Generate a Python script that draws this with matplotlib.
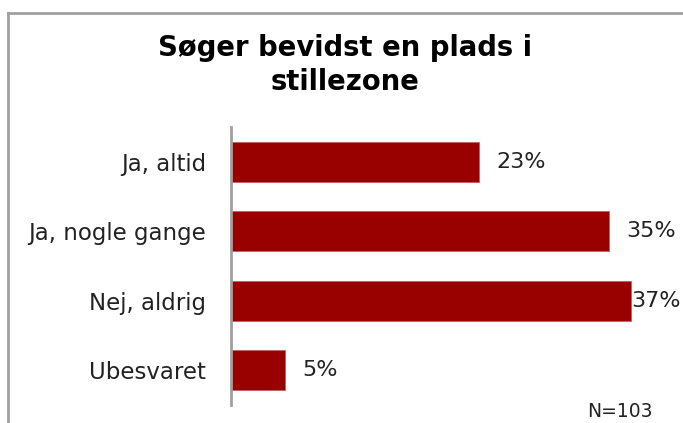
import matplotlib
matplotlib.use("Agg")
import matplotlib.pyplot as plt
from matplotlib.lines import Line2D

categories = ["Ja, altid", "Ja, nogle gange", "Nej, aldrig", "Ubesvaret"]
values = [23, 35, 37, 5]
value_labels = ["23%", "35%", "37%", "5%"]
title = "Søger bevidst en plads i\nstillezone"
note = "N=103"

W, H = 683, 423
fig = plt.figure(figsize=(W / 100, H / 100), dpi=100)
fig.patch.set_facecolor("white")

ax = fig.add_axes([231 / W, 18 / H, 432 / W, 278 / H])
y = list(range(len(categories)))
ax.barh(y, values, height=0.57, color="#990000", edgecolor="#c06060", linewidth=0.6)
ax.set_xlim(0, 40)
ax.set_ylim(len(categories) - 0.5, -0.5)
ax.set_yticks(y)
ax.set_yticklabels(categories, fontsize=16.5, color="#222222", family="DejaVu Sans")
ax.tick_params(axis="y", length=0, pad=18)
ax.set_xticks([])
for s in ["top", "right", "bottom"]:
    ax.spines[s].set_visible(False)
ax.spines["left"].set_color("#a0a0a0")
ax.spines["left"].set_linewidth(2)

for yi, v, lab in zip(y, values, value_labels):
    xl = min(v + 1.6, 37.1)
    ax.text(xl, yi, lab, va="center", ha="left", fontsize=16, color="#222222")

fig.text(345 / W, 1 - 65 / H, title, ha="center", va="center", fontsize=19.8,
         fontweight="bold", linespacing=1.25, color="black", family="DejaVu Sans")
fig.text(653 / W, 1 - 411 / H, note, ha="right", va="center", fontsize=13.5, color="#222222")

# outer border (top and left)
fig.add_artist(Line2D([8 / W, 8 / W], [0, 1 - 13 / H], transform=fig.transFigure,
                      color="#a0a0a0", linewidth=2))
fig.add_artist(Line2D([8 / W, 1], [1 - 13 / H, 1 - 13 / H], transform=fig.transFigure,
                      color="#a0a0a0", linewidth=2))

fig.savefig("out.png", dpi=100)
